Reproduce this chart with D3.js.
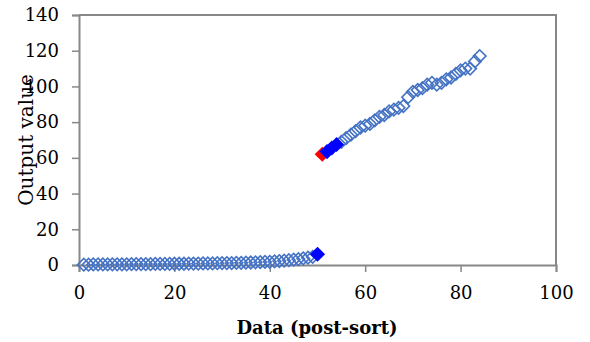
<!DOCTYPE html>
<html>
<head>
<meta charset="utf-8">
<script src="https://cdn.jsdelivr.net/npm/d3@7"></script>
<style>
  body { margin: 0; background: #fff; }
  text { font-family: "DejaVu Serif", "Liberation Serif", serif; }
</style>
</head>
<body>
<div id="chart"></div>
<script>
// points 1..49, open diamonds near zero
const lowY = [0.2, 0.2, 0.3, 0.3, 0.3, 0.3, 0.4, 0.4, 0.4, 0.4,
              0.5, 0.5, 0.5, 0.5, 0.5, 0.6, 0.6, 0.6, 0.6, 0.7,
              0.7, 0.7, 0.8, 0.8, 0.8, 0.9, 0.9, 0.9, 1.0, 1.0,
              1.1, 1.1, 1.2, 1.2, 1.3, 1.4, 1.5, 1.6, 1.7, 1.8,
              2.0, 2.2, 2.4, 2.7, 3.0, 3.3, 3.7, 4.1, 4.6];
// highlighted points
const blueLow = [{x: 50, y: 6}];
const redPt = [{x: 51, y: 62}];
const blueHigh = [{x: 52, y: 63.5}, {x: 53, y: 65.5}, {x: 54, y: 67.5}];
// points 55..84, open diamonds
const highY = [69, 71, 73, 75, 77, 78, 79, 81, 83, 84,
               86, 87, 88, 89, 94, 97, 98, 99, 101, 102,
               101, 102, 104, 105, 107, 109, 110, 110, 114, 117];

const xTicks = [0, 20, 40, 60, 80, 100];
const yTicks = [0, 20, 40, 60, 80, 100, 120, 140];

const open = lowY.map((y, i) => ({x: i + 1, y}))
  .concat(highY.map((y, i) => ({x: i + 55, y})));

const width = 590, height = 342;
const margin = {left: 79, right: 34, top: 15, bottom: 77};

const svg = d3.select("#chart").append("svg")
  .attr("width", width)
  .attr("height", height);

const x = d3.scaleLinear().domain([0, 100]).range([margin.left, width - margin.right]);
const y = d3.scaleLinear().domain([0, 140]).range([height - margin.bottom, margin.top]);

const axisColor = "#888888";

// plot frame (top and right)
svg.append("path")
  .attr("d", `M${x(0)},${y(140)}H${x(100)}V${y(0)}`)
  .attr("fill", "none")
  .attr("stroke", axisColor)
  .attr("stroke-width", 2);

const xAxis = svg.append("g")
  .attr("transform", `translate(0,${y(0)})`)
  .call(d3.axisBottom(x).tickValues(xTicks).tickSize(7).tickPadding(14));
const yAxis = svg.append("g")
  .attr("transform", `translate(${x(0)},0)`)
  .call(d3.axisLeft(y).tickValues(yTicks).tickSize(7).tickPadding(13));

[xAxis, yAxis].forEach(g => {
  g.select(".domain").attr("stroke", axisColor).attr("stroke-width", 2);
  g.selectAll(".tick line").attr("stroke", axisColor).attr("stroke-width", 1.5);
  g.selectAll(".tick text")
    .attr("fill", "#000")
    .style("font-size", "18px")
    .style("font-family", "'DejaVu Serif', serif");
});

const sq = s => d3.symbol().type(d3.symbolSquare).size(s);

// open diamonds
svg.append("g").selectAll("path")
  .data(open)
  .join("path")
  .attr("d", sq(78))
  .attr("transform", d => `translate(${x(d.x)},${y(d.y)}) rotate(45)`)
  .attr("fill", "none")
  .attr("stroke", "#4472C4")
  .attr("stroke-width", 1.6);

// red (drawn under the blue ones)
svg.append("g").selectAll("path")
  .data(redPt)
  .join("path")
  .attr("d", sq(115))
  .attr("transform", d => `translate(${x(d.x)},${y(d.y)}) rotate(45)`)
  .attr("fill", "#FF0000");

// filled blue
svg.append("g").selectAll("path")
  .data(blueLow.concat(blueHigh))
  .join("path")
  .attr("d", sq(115))
  .attr("transform", d => `translate(${x(d.x)},${y(d.y)}) rotate(45)`)
  .attr("fill", "#0000FF");

// axis titles
svg.append("text")
  .attr("x", 317)
  .attr("y", 334)
  .attr("text-anchor", "middle")
  .style("font-size", "18px")
  .style("font-weight", "bold")
  .text("Data (post-sort)");

svg.append("text")
  .attr("transform", `translate(33,${y(70)}) rotate(-90)`)
  .attr("text-anchor", "middle")
  .style("font-size", "20px")
  .text("Output value");
</script>
</body>
</html>
